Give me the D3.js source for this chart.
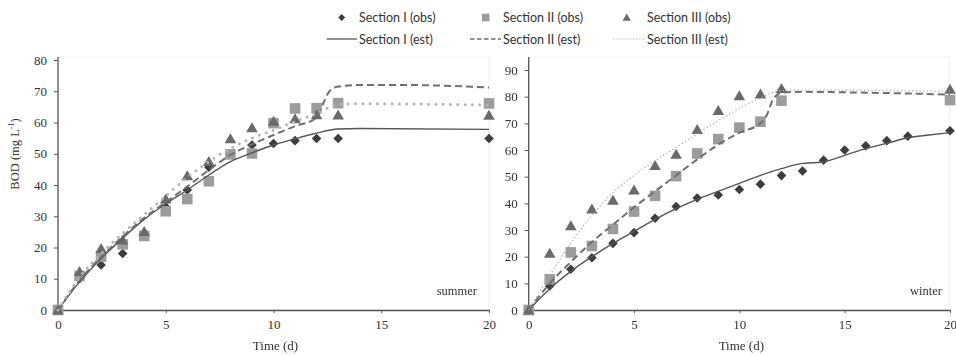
<!DOCTYPE html>
<html>
<head>
<meta charset="utf-8">
<script src="https://cdn.jsdelivr.net/npm/d3@7"></script>
<style>
body { margin: 0; background: #fff; }
svg { display: block; }
.axis path, .axis line { stroke: #555; }
.legend text { font-family: Lato, "Open Sans", sans-serif; font-size: 12.5px; fill: #333; }
</style>
</head>
<body>
<div id="container"></div>
<script>
/* Data */
var obsDaysSummer = [0, 1, 2, 3, 4, 5, 6, 7, 8, 9, 10, 11, 12, 13, 20];
var summerObsI   = [0, 10, 14.4, 18.1, 24, 33, 38.4, 45.7, 50, 52.8, 53.3, 54.2, 54.9, 54.9, 54.9];
var summerObsII  = [0, 10.9, 17.1, 21, 23.7, 31.6, 35.5, 41.2, 49.8, 50.1, 59.8, 64.5, 64.6, 66.2, 66.1];
var summerObsIII = [0, 12.3, 19.7, 22.4, 25.1, 35.5, 43, 47.5, 54.8, 58.3, 60.4, 61.2, 62.5, 62.4, 62.3];

var estDaysSummerI   = [0, 1, 2, 3, 4, 5, 6, 7, 8, 9, 10, 11, 12, 13, 14, 20];
var summerEstI       = [0, 9, 16.5, 23, 29, 34, 38.4, 43.2, 47.5, 50.3, 52.8, 54.8, 56.6, 57.9, 58.1, 57.8];
var estDaysSummerII  = [0, 1, 2, 3, 4, 5, 6, 7, 8, 9, 10, 11, 12, 12.3, 12.6, 13, 14, 16, 20];
var summerEstII      = [0, 9.5, 17, 23.5, 29.5, 34.5, 39.5, 44.8, 49.6, 53, 56, 58.8, 61.5, 66, 70, 71.5, 72, 72, 71.2];
var estDaysSummerIII = [0, 1, 2, 3, 4, 5, 6, 7, 8, 9, 10, 11, 12, 13, 14, 20];
var summerEstIII     = [0, 10.5, 18, 24.5, 30.5, 36.5, 42.5, 47.5, 51.7, 55, 57.6, 60.3, 62.9, 65.8, 66, 65.6];

var obsDaysWinterI = [0, 1, 2, 3, 4, 5, 6, 7, 8, 9, 10, 11, 12, 13, 14, 15, 16, 17, 18, 20];
var winterObsI     = [0, 9, 15.3, 19.6, 25, 29, 34.4, 38.8, 42, 43.1, 45.2, 47.2, 50.4, 52.1, 56.2, 60, 61.6, 63.5, 65.2, 67.2];
var obsDaysWinter  = [0, 1, 2, 3, 4, 5, 6, 7, 8, 9, 10, 11, 12, 20];
var winterObsII    = [0, 11.5, 21.6, 24, 30.4, 36.9, 42.8, 50.2, 58.7, 64.1, 68.4, 70.6, 78.5, 78.7];
var winterObsIII   = [0, 21.3, 31.6, 37.9, 41.2, 45, 54.2, 58.4, 67.7, 74.8, 80.3, 81, 83.1, 82.8];

var estDaysWinterI   = [0, 1, 2, 3, 4, 5, 6, 7, 8, 9, 10, 11, 12, 13, 13.5, 14, 15, 16, 17, 18, 19, 20];
var winterEstI       = [0, 8, 14.5, 20, 25, 29.5, 34, 38, 41.5, 44.5, 47.5, 50.5, 53, 55, 55.2, 55.6, 58, 60.5, 62.5, 64.6, 65.6, 66.5];
var estDaysWinterII  = [0, 1, 2, 3, 4, 5, 6, 7, 8, 9, 10, 11, 11.3, 11.6, 12, 13, 16, 20];
var winterEstII      = [0, 10, 18, 25.5, 32, 38.5, 44.5, 50.5, 56.5, 62, 66.5, 70, 73, 79, 81.5, 81.8, 81.5, 80.8];
var estDaysWinterIII = [0, 1, 2, 3, 4, 5, 6, 7, 8, 9, 10, 11, 12, 13, 20];
var winterEstIII     = [0, 13, 25, 35.5, 44, 50.5, 56, 61, 66, 71, 75.5, 79.5, 82.3, 82.5, 82];

var xTicks = [0, 5, 10, 15, 20];
var yTicksSummer = [0, 10, 20, 30, 40, 50, 60, 70, 80];
var yTicksWinter = [0, 10, 20, 30, 40, 50, 60, 70, 80, 90];
var legendLabels = ['Section I (obs)', 'Section II (obs)', 'Section III (obs)',
	'Section I (est)', 'Section II (est)', 'Section III (est)'];

/* Styles */
var markerFill = { diamond: '#3d3d3d', square: '#9c9c9c', triangle: '#6b6b6b' };
var serif = '"Liberation Serif", "Times New Roman", serif';

var svg = d3.select('#container').append('svg')
	.attr('width', 956)
	.attr('height', 356);

svg.append('defs').append('filter')
	.attr('id', 'soft')
	.append('feGaussianBlur')
	.attr('stdDeviation', 0.6);

function zip(xs, ys) {
	return xs.map((x, i) => ({ x: x, y: ys[i] }));
}

/* marker shapes centered at 0,0 */
function markerPath(kind) {
	if (kind === 'diamond') return 'M0,-4.8L4.8,0L0,4.8L-4.8,0Z';
	if (kind === 'square') return 'M-5.3,-5.3H5.3V5.3H-5.3Z';
	return 'M0,-5.5L5.8,4.5H-5.8Z';
}

function styleTicks(sel) {
	sel.selectAll('text')
		.attr('font-family', null)
		.style('font-family', serif)
		.style('font-size', '13px')
		.attr('fill', '#333');
	sel.attr('font-family', null).attr('font-size', null);
}

function drawPanel(p) {
	var xScale = d3.scaleLinear().domain([0, 20]).range([p.x0, p.x1]),
		yScale = d3.scaleLinear().domain([0, p.yMax]).range([310, p.yTop]);

	var g = svg.append('g').classed(p.name, true);

	// faint plot area frame
	g.append('rect')
		.attr('x', p.x0).attr('y', 57)
		.attr('width', p.x1 - p.x0).attr('height', 310 - 57)
		.attr('fill', 'none')
		.attr('stroke', '#efefef');

	// y axis
	var ya = g.append('g')
		.classed('axis', true)
		.attr('transform', 'translate(' + p.x0 + ',0)')
		.call(d3.axisLeft(yScale).tickValues(p.yTicks).tickSize(4).tickSizeOuter(0).tickPadding(7));
	ya.select('.domain').remove();
	styleTicks(ya);
	g.append('line')
		.attr('x1', p.x0).attr('x2', p.x0)
		.attr('y1', 57).attr('y2', 310)
		.attr('stroke', '#555').attr('stroke-width', 1.3);

	// x axis
	var xa = g.append('g')
		.classed('axis', true)
		.attr('transform', 'translate(0,310)')
		.call(d3.axisBottom(xScale).tickValues(xTicks).tickSize(3).tickSizeOuter(0).tickPadding(7));
	xa.select('.domain').attr('stroke-width', 1.3);
	styleTicks(xa);

	// markers: diamonds, squares, triangles
	p.obs.forEach(function(s) {
		g.append('g')
			.attr('filter', 'url(#soft)')
			.selectAll('path')
			.data(zip(s.days, s.values))
			.enter().append('path')
			.attr('d', markerPath(s.kind))
			.attr('transform', d => 'translate(' + xScale(d.x) + ',' + yScale(d.y) + ')')
			.attr('fill', markerFill[s.kind]);
	});

	// estimated lines drawn over the markers
	var line = d3.line()
		.x(d => xScale(d.x))
		.y(d => yScale(d.y))
		.curve(d3.curveMonotoneX);

	p.est.forEach(function(s) {
		g.append('path')
			.datum(zip(s.days, s.values))
			.attr('d', line)
			.attr('fill', 'none')
			.attr('stroke', s.color)
			.attr('stroke-width', s.width)
			.attr('stroke-dasharray', s.dash)
			.attr('stroke-linecap', s.cap || 'butt');
	});

	// season tag
	g.append('text')
		.attr('x', p.tagX).attr('y', 295)
		.attr('text-anchor', 'end')
		.style('font-family', serif)
		.style('font-size', '12.5px')
		.attr('fill', '#333')
		.text(p.tag);

	// x label
	g.append('text')
		.attr('x', (p.x0 + p.x1) / 2 + 2).attr('y', 350)
		.attr('text-anchor', 'middle')
		.style('font-family', serif)
		.style('font-size', '13px')
		.attr('fill', '#333')
		.text('Time (d)');
}

drawPanel({
	name: 'summer', x0: 58, x1: 489, yMax: 80, yTop: 60, yTicks: yTicksSummer,
	tag: 'summer', tagX: 477,
	obs: [
		{ kind: 'diamond', days: obsDaysSummer, values: summerObsI },
		{ kind: 'square', days: obsDaysSummer, values: summerObsII },
		{ kind: 'triangle', days: obsDaysSummer, values: summerObsIII }
	],
	est: [
		{ days: estDaysSummerI, values: summerEstI, color: '#555', width: 1.4, dash: null },
		{ days: estDaysSummerII, values: summerEstII, color: '#6f6f6f', width: 2, dash: '7,4' },
		{ days: estDaysSummerIII, values: summerEstIII, color: '#b4b4b4', width: 3, dash: '0,7.3', cap: 'round' }
	]
});

drawPanel({
	name: 'winter', x0: 528.7, x1: 950, yMax: 90, yTop: 70, yTicks: yTicksWinter,
	tag: 'winter', tagX: 942,
	obs: [
		{ kind: 'diamond', days: obsDaysWinterI, values: winterObsI },
		{ kind: 'square', days: obsDaysWinter, values: winterObsII },
		{ kind: 'triangle', days: obsDaysWinter, values: winterObsIII }
	],
	est: [
		{ days: estDaysWinterI, values: winterEstI, color: '#555', width: 1.4, dash: null },
		{ days: estDaysWinterII, values: winterEstII, color: '#6f6f6f', width: 2, dash: '7,4' },
		{ days: estDaysWinterIII, values: winterEstIII, color: '#aaaaaa', width: 1.2, dash: '1.3,2.4' }
	]
});

/* Y label */
svg.append('text')
	.attr('transform', 'translate(19,154) rotate(-90)')
	.attr('text-anchor', 'middle')
	.style('font-family', serif)
	.style('font-size', '12.5px')
	.attr('fill', '#333')
	.html('BOD (mg L<tspan dy="-5" font-size="8">-1</tspan><tspan dy="5">)</tspan>');

/* Legend */
var legend = svg.append('g').classed('legend', true);
var colX = [341.7, 485.7, 626.7];
var textX = [359, 503, 647];
var lineX0 = [326.7, 470, 613.3];
var kinds = ['diamond', 'square', 'triangle'];
var legendLines = [
	{ color: '#555', width: 1.3, dash: null },
	{ color: '#6f6f6f', width: 1.5, dash: '4.5,2.5' },
	{ color: '#b0b0b0', width: 1, dash: '1.2,1.6' }
];

kinds.forEach(function(k, i) {
	legend.append('path')
		.attr('d', markerPath(k))
		.attr('transform', 'translate(' + colX[i] + ',17.5) scale(0.72)')
		.attr('fill', markerFill[k])
		.attr('filter', 'url(#soft)');
	legend.append('text')
		.attr('x', textX[i]).attr('y', 22)
		.text(legendLabels[i]);

	legend.append('line')
		.attr('x1', lineX0[i]).attr('x2', textX[i] - 2)
		.attr('y1', 39).attr('y2', 39)
		.attr('stroke', legendLines[i].color)
		.attr('stroke-width', legendLines[i].width)
		.attr('stroke-dasharray', legendLines[i].dash);
	legend.append('text')
		.attr('x', textX[i]).attr('y', 43.5)
		.text(legendLabels[i + 3]);
});
</script>
</body>
</html>
